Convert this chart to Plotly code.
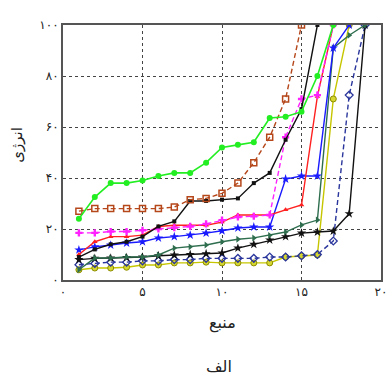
import plotly.graph_objects as go

# ---- data ----
lime = [24, 32.5, 38, 38, 39, 40.8, 42, 42, 46, 52, 53, 54, 63.5, 64, 66, 80, 100]
brown = [27, 28, 28, 28, 28, 28, 28.6, 31.5, 32, 34, 38, 46, 56, 71, 100]
black_sq = [9, 12, 14, 15, 17, 21, 23, 31, 31, 31.5, 32, 38, 42, 55, 67, 100]
magenta = [18.5, 18.5, 19, 19, 19.5, 20, 20.5, 21, 22, 23.5, 24.7, 25, 25.5, 56, 71, 72.5, 100]
red = [10, 15, 17, 17, 17.6, 21, 21.5, 21.5, 21.5, 22.7, 25.5, 25.5, 25.5, 27.5, 29.4, 72, 100]
blue = [11.8, 13, 13.7, 14.5, 15, 16.5, 17, 17.6, 18.4, 19.3, 20.4, 20.8, 20.8, 39.6, 40.8, 40.8, 91, 100]
teal = [4, 8.6, 8.6, 9, 9, 9.8, 12.5, 13, 13.7, 15, 16, 16.5, 17.5, 18.8, 21.6, 23.5, 91, 96, 100]
yellow = [4, 4.7, 4.7, 5, 5.9, 5.9, 6.7, 6.7, 7, 6.7, 6.7, 6.7, 6.7, 9, 9.4, 9.8, 71, 100]
navy = [6, 6.5, 7, 7, 7.5, 7.5, 8, 8, 8.5, 8.5, 8.5, 8.5, 9, 9, 9.5, 10, 15.3, 72.5, 100]
black_star = [8, 8.5, 8.6, 8.8, 9, 9.5, 9.8, 10, 10.3, 10.6, 12.5, 14, 15.7, 17, 18.4, 18.8, 19.2, 26, 100]

x_ticks = [0, 5, 10, 15, 20]
x_ticktext = ['۰', '۵', '۱۰', '۱۵', '۲۰']
y_ticks = [0, 20, 40, 60, 80, 100]
y_ticktext = ['۰', '۲۰', '۴۰', '۶۰', '۸۰', '۱۰۰']
x_title = 'منبع'
y_title = 'انرژی'
caption = 'الف'

series = [
    (yellow, dict(color='#c6c600', width=1.4), dict(symbol='circle', size=6, color='#d6d630', line=dict(color='#8c8c00', width=1))),
    (navy, dict(color='#2a369c', width=1.4, dash='5px,3px'), dict(symbol='diamond-open', size=6, color='#2a369c', line=dict(width=1.3))),
    (black_star, dict(color='#111111', width=1.4), dict(symbol='star', size=7, color='#111111')),
    (teal, dict(color='#2e6e4e', width=1.4), dict(symbol='triangle-right', size=6, color='#2e6e4e')),
    (blue, dict(color='#1a1aff', width=1.4), dict(symbol='star', size=7, color='#1a1aff')),
    (red, dict(color='#ff2020', width=1.4), dict(symbol='triangle-up', size=5, color='#ff2020')),
    (magenta, dict(color='#ff22ff', width=1.4, dash='5px,3px'), dict(symbol='cross', size=6, color='#ff22ff')),
    (black_sq, dict(color='#111111', width=1.4), dict(symbol='square', size=4, color='#111111')),
    (brown, dict(color='#b5471a', width=1.4, dash='5px,3px'), dict(symbol='square-open', size=6, color='#b5471a', line=dict(width=1.5))),
    (lime, dict(color='#22ee22', width=1.6), dict(symbol='circle', size=6, color='#22ee22')),
]

fig = go.Figure()
for ys, ln, mk in series:
    fig.add_trace(go.Scatter(x=list(range(1, len(ys) + 1)), y=ys, mode='lines+markers',
                             line=ln, marker=mk, showlegend=False))

axis_common = dict(showline=True, mirror=True, linecolor='#555555', linewidth=2,
                   showgrid=True, gridcolor='#444444', gridwidth=1, griddash='dot',
                   zeroline=False, ticks='', ticklabeloverflow='allow',
                   tickfont=dict(family='DejaVu Sans', size=12, color='#222222'))

fig.update_xaxes(range=[0, 20], tickvals=x_ticks, ticktext=x_ticktext, **axis_common)
fig.update_yaxes(range=[0, 100], tickvals=y_ticks, ticktext=y_ticktext, **axis_common)

fig.add_annotation(text=x_title, xref='paper', yref='paper', x=0.5, y=-0.17, yanchor='middle',
                   showarrow=False, font=dict(family='DejaVu Sans', size=16, color='#222222'))
fig.add_annotation(text=caption, xref='paper', yref='paper', x=0.49, y=-0.34, yanchor='middle',
                   showarrow=False, font=dict(family='DejaVu Sans', size=16, color='#222222'))
fig.add_annotation(text=y_title, xref='paper', yref='paper', x=-0.145, y=0.53, xanchor='center',
                   yanchor='middle', textangle=-90,
                   showarrow=False, font=dict(family='DejaVu Sans', size=15, color='#222222'))

fig.update_layout(width=390, height=381, margin=dict(l=63, r=3, t=25, b=101),
                  plot_bgcolor='white', paper_bgcolor='white')
fig.write_html('out.html')
